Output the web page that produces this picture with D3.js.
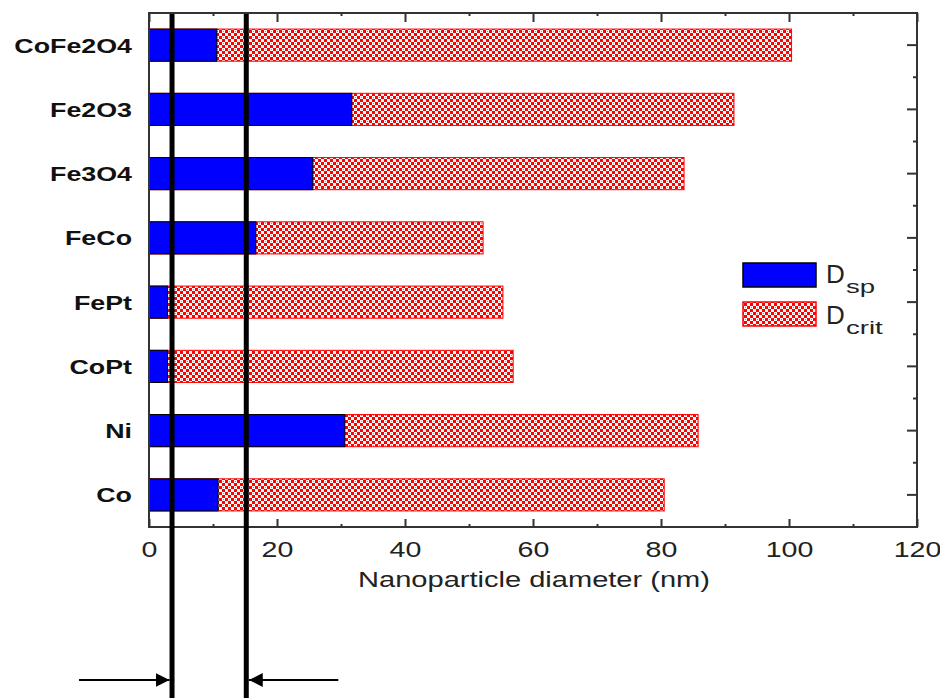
<!DOCTYPE html>
<html>
<head>
<meta charset="utf-8">
<script src="https://cdn.jsdelivr.net/npm/d3@7"></script>
<style>
	body { margin: 0; background: #fff; }
	svg { display: block; font-family: "Liberation Sans", Arial, sans-serif; }
</style>
</head>
<body>
<div id="chart"></div>
<script>

var categories = ["CoFe2O4", "Fe2O3", "Fe3O4", "FeCo", "FePt", "CoPt", "Ni", "Co"];
var dsp = [10.6, 31.7, 25.6, 16.7, 2.9, 2.9, 30.6, 10.8];
var dcrit = [100.4, 91.4, 83.6, 52.2, 55.3, 56.9, 85.8, 80.5];
var majorTicks = [0, 20, 40, 60, 80, 100, 120];
var minorTicks = [10, 30, 50, 70, 90, 110];
var markers = [3.6, 15.2];
var legendLabels = ["sp", "crit"];


var width = 940, height = 698,
	plot = {left: 149, right: 917, top: 13, bottom: 527},
	frameColor = "#333";

var x = d3.scaleLinear().domain([0, 120]).range([plot.left, plot.right]);
var y = d3.scaleBand().domain(categories).range([plot.top, plot.bottom]).paddingInner(0.5).paddingOuter(0.25);

var rows = categories.map(function(c, i) { return {name: c, sp: dsp[i], crit: dcrit[i]}; });

var svg = d3.select("#chart")
	.append("svg")
		.attr("width", width)
		.attr("height", height);

// stretch text horizontally, the original font is rendered wide
function stretch(sel, k) {
	sel.each(function() {
		var w = this.getComputedTextLength();
		d3.select(this).attr("textLength", w * k).attr("lengthAdjust", "spacingAndGlyphs");
	});
}

var defs = svg.append("defs");
var pat = defs.append("pattern")
	.attr("id", "check")
	.attr("patternUnits", "userSpaceOnUse")
	.attr("width", 6)
	.attr("height", 6);
pat.append("rect").attr("width", 6).attr("height", 6).attr("fill", "#ff0000");
pat.append("rect").attr("x", 0).attr("y", 0).attr("width", 3).attr("height", 3).attr("fill", "#fff");
pat.append("rect").attr("x", 3).attr("y", 3).attr("width", 3).attr("height", 3).attr("fill", "#fff");
pat.append("rect").attr("x", 1).attr("y", 1).attr("width", 1).attr("height", 1).attr("fill", "#ff7070");

defs.append("marker")
	.attr("id", "head")
	.attr("viewBox", "0 0 14 14")
	.attr("refX", 14)
	.attr("refY", 7)
	.attr("markerWidth", 14)
	.attr("markerHeight", 14)
	.attr("markerUnits", "userSpaceOnUse")
	.attr("orient", "auto")
	.append("path")
		.attr("d", "M0,0L14,7L0,14Z")
		.attr("fill", "#000");


// bars: critical diameter behind, superparamagnetic in front
svg.append("g")
	.selectAll("rect")
	.data(rows)
	.enter().append("rect")
		.attr("x", x(0))
		.attr("y", function(d) { return y(d.name); })
		.attr("width", function(d) { return x(d.crit) - x(0); })
		.attr("height", y.bandwidth())
		.attr("fill", "url(#check)")
		.attr("stroke", "#ff0000")
		.attr("stroke-width", 1);

svg.append("g")
	.selectAll("rect")
	.data(rows)
	.enter().append("rect")
		.attr("x", x(0))
		.attr("y", function(d) { return y(d.name); })
		.attr("width", function(d) { return x(d.sp) - x(0); })
		.attr("height", y.bandwidth())
		.attr("fill", "#0000ff")
		.attr("stroke", "#000")
		.attr("stroke-width", 1);


// axes, ticks point inward
function styleAxis(g) {
	g.select(".domain").remove();
	g.selectAll("line").attr("stroke", frameColor).attr("stroke-width", 2);
}

svg.append("g")
	.attr("transform", "translate(0," + plot.bottom + ")")
	.call(d3.axisBottom(x).tickValues(majorTicks).tickSize(-8).tickPadding(14))
	.call(styleAxis)
	.selectAll("text")
		.attr("font-size", 22)
		.attr("font-family", "Liberation Sans, Arial, sans-serif")
		.attr("fill", "#222")
		.call(stretch, 1.3);

svg.append("g")
	.attr("transform", "translate(0," + plot.bottom + ")")
	.call(d3.axisBottom(x).tickValues(minorTicks).tickSize(-3).tickFormat(""))
	.call(styleAxis);

svg.append("g")
	.attr("transform", "translate(0," + plot.top + ")")
	.call(d3.axisTop(x).tickValues(majorTicks).tickSize(-9).tickFormat(""))
	.call(styleAxis);

svg.append("g")
	.attr("transform", "translate(0," + plot.top + ")")
	.call(d3.axisTop(x).tickValues(minorTicks).tickSize(-3).tickFormat(""))
	.call(styleAxis);

svg.append("g")
	.attr("transform", "translate(" + plot.right + ",0)")
	.call(d3.axisRight(y).tickSize(-10).tickFormat(""))
	.call(styleAxis);

svg.append("g")
	.selectAll("line")
	.data(categories.slice(1))
	.enter().append("line")
		.attr("x1", plot.right - 4)
		.attr("x2", plot.right)
		.attr("y1", function(d) { return y(d) - y.step() * y.paddingInner() / 2; })
		.attr("y2", function(d) { return y(d) - y.step() * y.paddingInner() / 2; })
		.attr("stroke", frameColor)
		.attr("stroke-width", 2);

svg.append("rect")
	.attr("x", plot.left)
	.attr("y", plot.top)
	.attr("width", plot.right - plot.left)
	.attr("height", plot.bottom - plot.top)
	.attr("fill", "none")
	.attr("stroke", frameColor)
	.attr("stroke-width", 2);


// category labels
svg.append("g")
	.selectAll("text")
	.data(categories)
	.enter().append("text")
		.attr("x", 132)
		.attr("y", function(d) { return y(d) + y.bandwidth() / 2 + 7.5; })
		.attr("text-anchor", "end")
		.attr("font-size", 20)
		.attr("font-weight", "bold")
		.attr("fill", "#111")
		.text(function(d) { return d; })
		.call(stretch, 1.34);

svg.append("text")
	.attr("x", (x(0) + x(120)) / 2 + 1)
	.attr("y", 587)
	.attr("text-anchor", "middle")
	.attr("font-size", 22)
	.attr("fill", "#222")
	.text("Nanoparticle diameter (nm)")
	.call(stretch, 1.32);


// legend
var legend = svg.append("g");
var legendFills = [{fill: "#0000ff", stroke: "#000"}, {fill: "url(#check)", stroke: "#ff0000"}];

legend.selectAll("rect")
	.data(legendFills)
	.enter().append("rect")
		.attr("x", 743)
		.attr("y", function(d, i) { return 263 + i * 39; })
		.attr("width", 73)
		.attr("height", 24)
		.attr("fill", function(d) { return d.fill; })
		.attr("stroke", function(d) { return d.stroke; })
		.attr("stroke-width", 1.5);

legend.selectAll("text.main")
	.data(legendLabels)
	.enter().append("text")
		.attr("class", "main")
		.attr("x", 826)
		.attr("y", function(d, i) { return 283 + i * 41; })
		.attr("font-size", 26)
		.attr("fill", "#222")
		.text("D");

legend.selectAll("text.sub")
	.data(legendLabels)
	.enter().append("text")
		.attr("class", "sub")
		.attr("x", 846)
		.attr("y", function(d, i) { return 293 + i * 41; })
		.attr("font-size", 19)
		.attr("fill", "#222")
		.text(function(d) { return d; })
		.call(stretch, 1.45);


// marker lines with arrows pointing at them
svg.append("g")
	.selectAll("line")
	.data(markers)
	.enter().append("line")
		.attr("x1", function(d) { return x(d); })
		.attr("x2", function(d) { return x(d); })
		.attr("y1", plot.top + 1)
		.attr("y2", height)
		.attr("stroke", "#000")
		.attr("stroke-width", 5);

svg.append("g")
	.selectAll("line")
	.data(markers)
	.enter().append("line")
		.attr("x1", function(d, i) { return i == 0 ? x(d) - 93 : x(d) + 92; })
		.attr("x2", function(d, i) { return i == 0 ? x(d) - 2.5 : x(d) + 2.5; })
		.attr("y1", 680)
		.attr("y2", 680)
		.attr("stroke", "#000")
		.attr("stroke-width", 2)
		.attr("marker-end", "url(#head)");

</script>
</body>
</html>
